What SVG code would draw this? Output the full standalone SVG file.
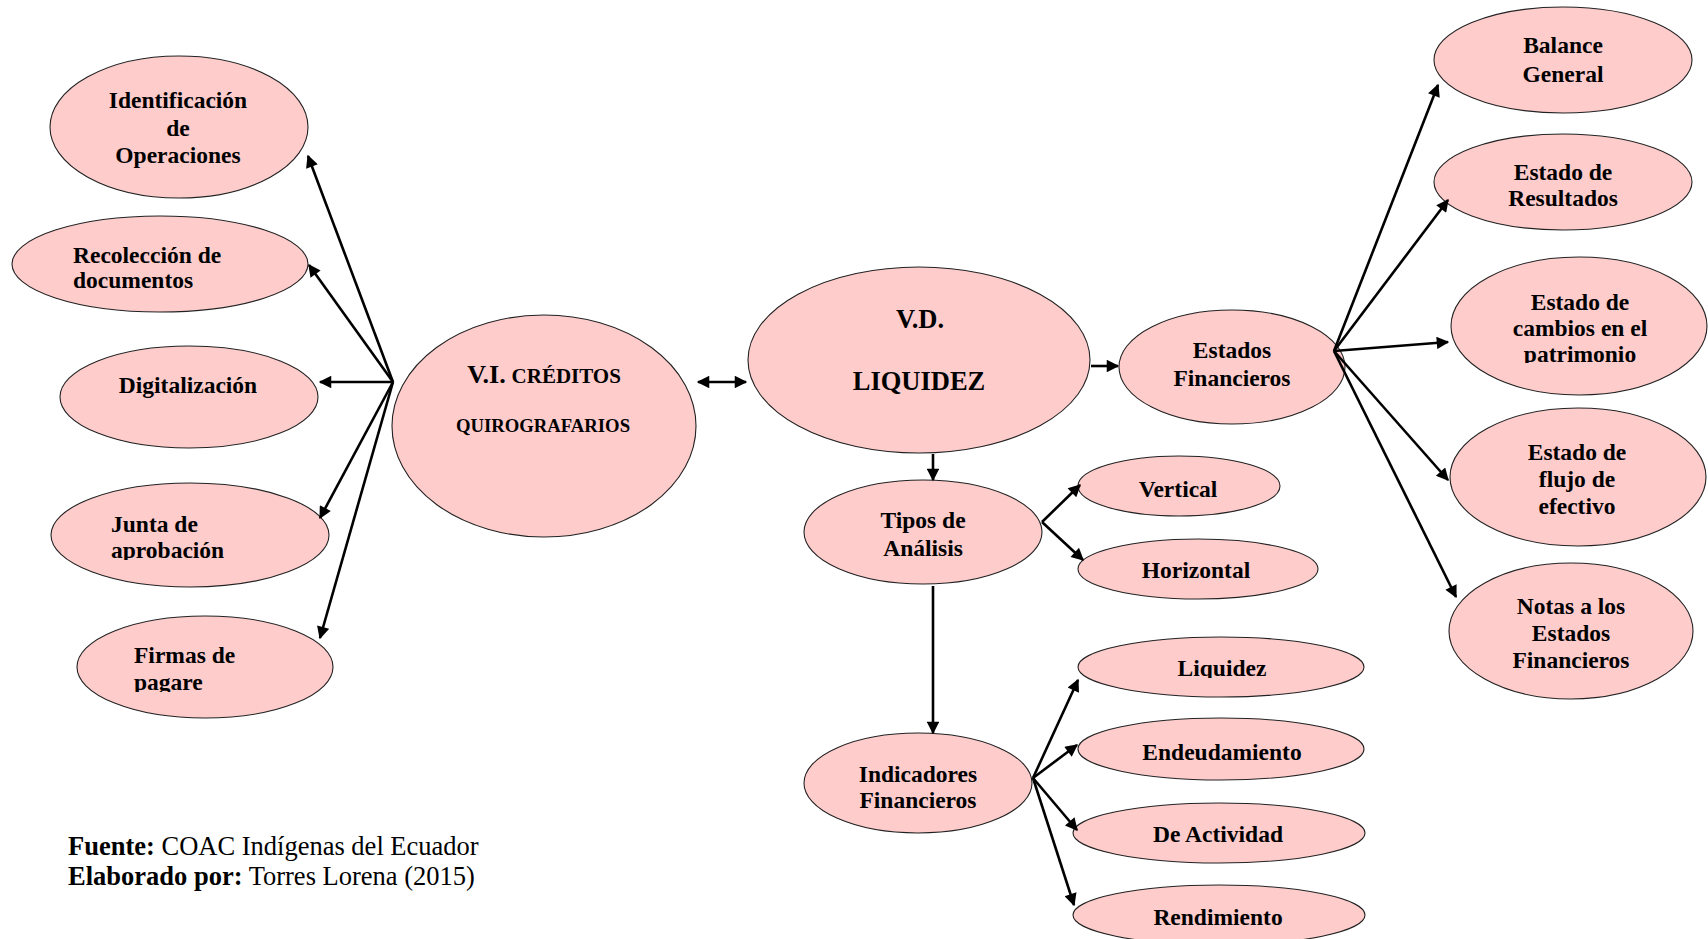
<svg xmlns="http://www.w3.org/2000/svg" width="1708" height="939" viewBox="0 0 1708 939">
<style>
.n{fill:#FFCCCC;stroke:#222;stroke-width:1.1}
.t{font-family:"Liberation Serif","Times New Roman",serif;font-weight:bold;font-size:23.5px;fill:#000}
.c{text-anchor:middle}
.e{stroke:#000;stroke-width:2.6;fill:none;marker-end:url(#ah)}
.f{font-family:"Liberation Serif","Times New Roman",serif;font-size:26.5px;fill:#000}
</style>
<defs>
<marker id="ah" viewBox="0 0 10 10" refX="9" refY="5" markerWidth="16" markerHeight="12.5" markerUnits="userSpaceOnUse" orient="auto-start-reverse">
<path d="M0,0 L10,5 L0,10 z" fill="#000"/>
</marker>
<clipPath id="cl1"><rect x="0" y="0" width="1708" height="560"/></clipPath>
<clipPath id="cl2"><rect x="0" y="0" width="1708" height="692"/></clipPath>
<clipPath id="cl3"><rect x="0" y="0" width="1708" height="208"/></clipPath>
<clipPath id="cl4"><rect x="0" y="0" width="1708" height="363"/></clipPath>
<clipPath id="cl5"><rect x="0" y="0" width="1708" height="678"/></clipPath>
</defs>
<rect width="1708" height="939" fill="#fff"/>

<g id="n-identificacion">
<ellipse class="n" cx="179" cy="127" rx="129" ry="71"/>
<text class="t c" x="178" y="108">Identificación</text>
<text class="t c" x="178" y="136">de</text>
<text class="t c" x="178" y="163">Operaciones</text>
</g>
<g id="n-recoleccion">
<ellipse class="n" cx="160" cy="264" rx="148" ry="48"/>
<text class="t" x="73" y="263">Recolección de</text>
<text class="t" x="73" y="288">documentos</text>
</g>
<g id="n-digitalizacion">
<ellipse class="n" cx="189" cy="397" rx="129" ry="51"/>
<text class="t c" x="188" y="393">Digitalización</text>
</g>
<g id="n-junta">
<ellipse class="n" cx="190" cy="535" rx="139" ry="52"/>
<text class="t" x="111" y="532">Junta de</text>
<text class="t" x="111" y="558" clip-path="url(#cl1)">aprobación</text>
</g>
<g id="n-firmas">
<ellipse class="n" cx="205" cy="667" rx="128" ry="51"/>
<text class="t" x="134" y="663">Firmas de</text>
<text class="t" x="134" y="690" clip-path="url(#cl2)">pagare</text>
</g>

<g id="n-vi">
<ellipse class="n" cx="544" cy="426" rx="152" ry="111"/>
<text class="t c" x="544" y="383"><tspan style="font-size:26px">V.I.</tspan> <tspan style="font-size:21px">CRÉDITOS</tspan></text>
<text class="t c" x="543" y="432" style="font-size:18.7px">QUIROGRAFARIOS</text>
</g>

<g id="n-vd">
<ellipse class="n" cx="919" cy="360" rx="171" ry="93"/>
<text class="t c" x="920" y="328" style="font-size:26.5px">V.D.</text>
<text class="t c" x="919" y="390" style="font-size:26.5px">LIQUIDEZ</text>
</g>

<g id="n-estados">
<ellipse class="n" cx="1232" cy="367" rx="113" ry="57"/>
<text class="t c" x="1232" y="358">Estados</text>
<text class="t c" x="1232" y="386">Financieros</text>
</g>

<g id="n-tipos">
<ellipse class="n" cx="923" cy="532" rx="119" ry="52"/>
<text class="t c" x="923" y="528">Tipos de</text>
<text class="t c" x="923" y="556">Análisis</text>
</g>
<g id="n-vertical">
<ellipse class="n" cx="1179" cy="486" rx="101" ry="30"/>
<text class="t c" x="1178" y="497">Vertical</text>
</g>
<g id="n-horizontal">
<ellipse class="n" cx="1198" cy="569" rx="120" ry="30"/>
<text class="t c" x="1196" y="578">Horizontal</text>
</g>

<g id="n-indicadores">
<ellipse class="n" cx="918" cy="783" rx="114" ry="50"/>
<text class="t c" x="918" y="782">Indicadores</text>
<text class="t c" x="918" y="808">Financieros</text>
</g>
<g id="n-liquidez">
<ellipse class="n" cx="1221" cy="667" rx="143" ry="30"/>
<text class="t c" x="1222" y="676" clip-path="url(#cl5)">Liquidez</text>
</g>
<g id="n-endeudamiento">
<ellipse class="n" cx="1221" cy="749" rx="143" ry="31"/>
<text class="t c" x="1222" y="760">Endeudamiento</text>
</g>
<g id="n-actividad">
<ellipse class="n" cx="1219" cy="833" rx="146" ry="30"/>
<text class="t c" x="1218" y="842">De Actividad</text>
</g>
<g id="n-rendimiento">
<ellipse class="n" cx="1219" cy="915" rx="146" ry="30"/>
<text class="t c" x="1218" y="925">Rendimiento</text>
</g>

<g id="n-balance">
<ellipse class="n" cx="1563" cy="60" rx="129" ry="53"/>
<text class="t c" x="1563" y="53">Balance</text>
<text class="t c" x="1563" y="82">General</text>
</g>
<g id="n-resultados">
<ellipse class="n" cx="1563" cy="182" rx="129" ry="48"/>
<text class="t c" x="1563" y="180">Estado de</text>
<text class="t c" x="1563" y="206" clip-path="url(#cl3)">Resultados</text>
</g>
<g id="n-cambios">
<ellipse class="n" cx="1579" cy="326" rx="128" ry="69"/>
<text class="t c" x="1580" y="310">Estado de</text>
<text class="t c" x="1580" y="336">cambios en el</text>
<text class="t c" x="1580" y="362" clip-path="url(#cl4)">patrimonio</text>
</g>
<g id="n-flujo">
<ellipse class="n" cx="1578" cy="477" rx="128" ry="69"/>
<text class="t c" x="1577" y="460">Estado de</text>
<text class="t c" x="1577" y="487">flujo de</text>
<text class="t c" x="1577" y="514">efectivo</text>
</g>
<g id="n-notas">
<ellipse class="n" cx="1571" cy="631" rx="122" ry="68"/>
<text class="t c" x="1571" y="614">Notas a los</text>
<text class="t c" x="1571" y="641">Estados</text>
<text class="t c" x="1571" y="668">Financieros</text>
</g>

<g id="connectors">
<line class="e" x1="393" y1="382" x2="308" y2="156"/>
<line class="e" x1="393" y1="382" x2="309" y2="265"/>
<line class="e" x1="393" y1="382" x2="320" y2="382"/>
<line class="e" x1="393" y1="382" x2="320" y2="518"/>
<line class="e" x1="393" y1="382" x2="320" y2="638"/>
<line class="e" x1="698" y1="382" x2="746" y2="382" marker-start="url(#ah)"/>
<line class="e" x1="1091" y1="366" x2="1118" y2="366"/>
<line class="e" x1="933" y1="454" x2="933" y2="480"/>
<line class="e" x1="933" y1="586" x2="933" y2="733"/>
<line class="e" x1="1042" y1="522" x2="1080" y2="485"/>
<line class="e" x1="1042" y1="522" x2="1083" y2="560"/>
<line class="e" x1="1033" y1="778" x2="1078" y2="680"/>
<line class="e" x1="1033" y1="778" x2="1077" y2="745"/>
<line class="e" x1="1033" y1="778" x2="1077" y2="830"/>
<line class="e" x1="1033" y1="778" x2="1074" y2="905"/>
<line class="e" x1="1334" y1="351" x2="1438" y2="85"/>
<line class="e" x1="1334" y1="351" x2="1448" y2="200"/>
<line class="e" x1="1334" y1="351" x2="1448" y2="342"/>
<line class="e" x1="1334" y1="351" x2="1448" y2="480"/>
<line class="e" x1="1334" y1="351" x2="1456" y2="597"/>
</g>

<g id="footer">
<text class="f" x="68" y="855"><tspan font-weight="bold">Fuente:</tspan> COAC Indígenas del Ecuador</text>
<text class="f" x="68" y="885"><tspan font-weight="bold">Elaborado por:</tspan> Torres Lorena (2015)</text>
</g>
</svg>
